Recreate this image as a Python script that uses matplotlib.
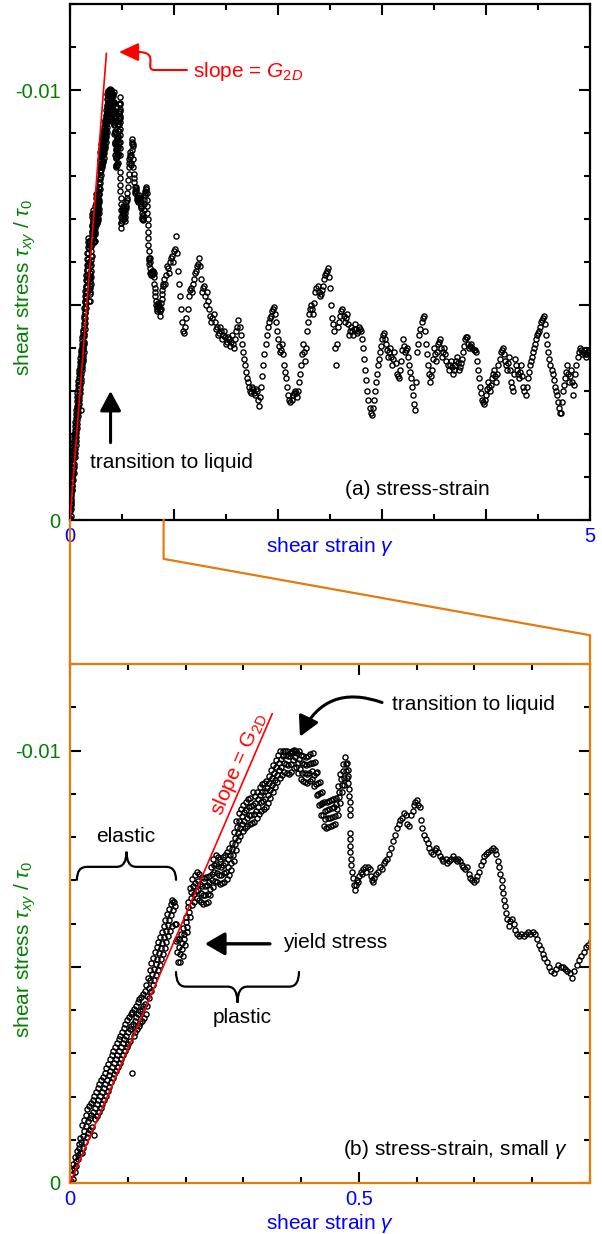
import numpy as np
import matplotlib
matplotlib.use("Agg")
import matplotlib.pyplot as plt
from matplotlib.path import Path
from matplotlib.patches import FancyArrowPatch, PathPatch
from matplotlib.lines import Line2D
from matplotlib.ticker import MultipleLocator, FixedLocator, FixedFormatter

plt.rcParams["font.family"] = ["Liberation Sans", "DejaVu Sans"]
plt.rcParams["mathtext.fontset"] = "custom"
plt.rcParams["mathtext.rm"] = "Liberation Sans"
plt.rcParams["mathtext.it"] = "Liberation Sans:italic"
plt.rcParams["mathtext.bf"] = "Liberation Sans:bold"

GREEN = "#008000"
BLUE = "#0000ff"
ORANGE = "#e47b0a"
RED = "#ff0000"

# stress values are |tau_xy / tau_0| in units of 1e-3 (plotted as negative)
strain_elastic = [
    0.000, 0.001, 0.002, 0.003, 0.004, 0.005, 0.006, 0.007, 0.008, 0.009,
    0.010, 0.011, 0.012, 0.013, 0.014, 0.015, 0.016, 0.017, 0.018, 0.019,
    0.020, 0.021, 0.022, 0.023, 0.024, 0.025, 0.026, 0.027, 0.028, 0.029,
    0.030, 0.031, 0.032, 0.033, 0.034, 0.035, 0.036, 0.037, 0.038, 0.039,
    0.040, 0.041, 0.042, 0.043, 0.044, 0.045, 0.046, 0.047, 0.048, 0.049,
    0.050, 0.051, 0.052, 0.053, 0.054, 0.055, 0.056, 0.057, 0.058, 0.059,
    0.060, 0.061, 0.062, 0.063, 0.064, 0.065, 0.066, 0.067, 0.068, 0.069,
    0.070, 0.071, 0.072, 0.073, 0.074, 0.075, 0.076, 0.077, 0.078, 0.079,
    0.080, 0.081, 0.082, 0.083, 0.084, 0.085, 0.086, 0.087, 0.088, 0.089,
    0.090, 0.091, 0.092, 0.093, 0.094, 0.095, 0.096, 0.097, 0.098, 0.099,
    0.100, 0.101, 0.102, 0.103, 0.104, 0.105, 0.106, 0.107, 0.108, 0.109,
    0.110, 0.111, 0.112, 0.113, 0.114, 0.115, 0.116, 0.117, 0.118, 0.119,
    0.120, 0.121, 0.122, 0.123, 0.124, 0.125, 0.126, 0.127, 0.128, 0.129,
    0.130, 0.131, 0.132, 0.133, 0.134, 0.135, 0.136, 0.137, 0.138, 0.139,
    0.140, 0.141, 0.142, 0.143, 0.144, 0.145, 0.146, 0.147, 0.148, 0.149,
    0.150, 0.151, 0.152, 0.153, 0.154, 0.155, 0.156, 0.157, 0.158, 0.159,
    0.160, 0.161, 0.162, 0.163, 0.164, 0.165, 0.166, 0.167, 0.168, 0.169,
    0.170, 0.171, 0.172, 0.173, 0.174, 0.175, 0.176, 0.177, 0.178, 0.179,
]
stress_elastic = [
    0.0, 0.05, 0.0, 0.3, 0.2, 0.1, 0.45, 0.35, 0.25, 0.6,
    0.5, 0.4, 0.75, 0.65, 0.55, 0.9, 0.8, 0.7, 1.05, 0.95,
    0.7, 1.34, 1.08, 0.82, 1.46, 1.2, 0.94, 1.58, 1.32, 1.06,
    1.7, 1.43, 1.15, 1.78, 1.5, 1.23, 1.85, 1.58, 1.3, 1.93,
    1.65, 1.1, 2.01, 1.74, 1.47, 2.1, 1.83, 1.56, 2.19, 1.92,
    1.65, 2.28, 2.01, 1.74, 2.37, 2.1, 1.83, 2.46, 2.19, 1.92,
    2.55, 2.29, 2.02, 2.66, 2.39, 2.13, 2.76, 2.5, 2.23, 2.87,
    2.6, 2.33, 2.96, 2.69, 2.42, 3.05, 2.78, 2.51, 3.14, 2.87,
    2.6, 3.23, 2.96, 2.69, 3.32, 3.05, 2.78, 3.41, 3.14, 2.87,
    3.5, 3.23, 2.96, 3.59, 3.32, 3.05, 3.68, 3.41, 3.14, 3.77,
    3.5, 3.22, 3.84, 3.56, 3.28, 3.9, 3.62, 2.55, 3.96, 3.68,
    3.4, 4.03, 3.75, 3.48, 4.1, 3.83, 3.55, 4.18, 3.9, 3.63,
    4.25, 3.97, 3.69, 4.31, 4.03, 3.75, 4.37, 4.09, 3.81, 4.43,
    4.15, 3.91, 4.57, 4.33, 4.09, 4.75, 4.51, 4.27, 4.93, 4.69,
    4.45, 5.09, 4.83, 4.57, 5.21, 4.95, 4.69, 5.33, 5.07, 4.81,
    5.45, 5.19, 4.93, 5.57, 5.31, 5.05, 5.69, 5.43, 5.17, 5.81,
    5.55, 5.3, 5.94, 5.69, 5.43, 6.08, 5.82, 5.57, 6.21, 5.96,
    5.7, 6.34, 6.08, 5.82, 6.46, 6.2, 5.94, 6.55, 6.32, 6.5,
]

strain_plastic = [
    0.180, 0.181, 0.182, 0.183, 0.184, 0.185, 0.186, 0.187, 0.188, 0.189,
    0.190, 0.191, 0.192, 0.193, 0.194, 0.195, 0.196, 0.197, 0.198, 0.199,
    0.200, 0.201, 0.202, 0.203, 0.204, 0.205, 0.206, 0.207, 0.208, 0.209,
    0.210, 0.211, 0.212, 0.213, 0.214, 0.215, 0.216, 0.217, 0.218, 0.219,
    0.220, 0.221, 0.222, 0.223, 0.224, 0.225, 0.226, 0.227, 0.228, 0.229,
    0.230, 0.231, 0.232, 0.233, 0.234, 0.235, 0.236, 0.237, 0.238, 0.239,
    0.240, 0.241, 0.242, 0.243, 0.244, 0.245, 0.246, 0.247, 0.248, 0.249,
    0.250, 0.251, 0.252, 0.253, 0.254, 0.255, 0.256, 0.257, 0.258, 0.259,
    0.260, 0.261, 0.262, 0.263, 0.264, 0.265, 0.266, 0.267, 0.268, 0.269,
    0.270, 0.271, 0.272, 0.273, 0.274, 0.275, 0.276, 0.277, 0.278, 0.279,
    0.280, 0.281, 0.282, 0.283, 0.284, 0.285, 0.286, 0.287, 0.288, 0.289,
    0.290, 0.291, 0.292, 0.293, 0.294, 0.295, 0.296, 0.297, 0.298, 0.299,
    0.300, 0.301, 0.302, 0.303, 0.304, 0.305, 0.306, 0.307, 0.308, 0.309,
    0.310, 0.311, 0.312, 0.313, 0.314, 0.315, 0.316, 0.317, 0.318, 0.319,
    0.320, 0.321, 0.322, 0.323, 0.324, 0.325, 0.326, 0.327, 0.328, 0.329,
    0.330, 0.331, 0.332, 0.333, 0.334, 0.335, 0.336, 0.337, 0.338, 0.339,
    0.340, 0.341, 0.342, 0.343, 0.344, 0.345, 0.346, 0.347, 0.348, 0.349,
    0.350, 0.351, 0.352, 0.353, 0.354, 0.355, 0.356, 0.357, 0.358, 0.359,
    0.360, 0.361, 0.362, 0.363, 0.364, 0.365, 0.366, 0.367, 0.368, 0.369,
    0.370, 0.371, 0.372, 0.373, 0.374, 0.375, 0.376, 0.377, 0.378, 0.379,
    0.380, 0.381, 0.382, 0.383, 0.384, 0.385, 0.386, 0.387, 0.388, 0.389,
    0.390, 0.391, 0.392, 0.393, 0.394, 0.395, 0.396, 0.397, 0.398, 0.399,
    0.400, 0.401, 0.402, 0.403, 0.404, 0.405, 0.406, 0.407, 0.408, 0.409,
    0.410, 0.411, 0.412, 0.413, 0.414, 0.415, 0.416, 0.417, 0.418, 0.419,
    0.420, 0.421, 0.422, 0.423, 0.424, 0.425, 0.426, 0.427, 0.428, 0.429,
    0.430, 0.431, 0.432, 0.433, 0.434, 0.435, 0.436, 0.437, 0.438, 0.439,
    0.440, 0.441, 0.442, 0.443, 0.444, 0.445, 0.446, 0.447, 0.448, 0.449,
    0.450, 0.451, 0.452, 0.453, 0.454, 0.455, 0.456, 0.457, 0.458, 0.459,
    0.460, 0.461, 0.462, 0.463, 0.464, 0.465, 0.466, 0.467, 0.468, 0.469,
    0.470, 0.471, 0.472, 0.473, 0.474, 0.475, 0.476, 0.477, 0.478, 0.479,
]
stress_plastic = [
    6.5, 6.4, 6.0, 5.6, 6.0, 5.65, 5.35, 5.1, 5.65, 5.45,
    5.3, 5.1, 5.75, 5.55, 5.4, 5.25, 5.9, 5.75, 5.65, 5.5,
    6.15, 6.04, 5.92, 5.8, 6.49, 6.38, 6.26, 6.15, 6.83, 6.72,
    6.6, 6.42, 7.04, 6.86, 6.68, 6.5, 7.12, 6.94, 6.76, 6.58,
    7.2, 6.98, 6.77, 6.55, 7.14, 6.92, 6.71, 6.49, 7.08, 6.86,
    6.65, 6.46, 7.06, 6.87, 6.67, 6.48, 7.08, 6.89, 6.69, 6.5,
    7.1, 6.95, 6.8, 6.65, 7.3, 7.15, 7.0, 6.85, 7.5, 7.35,
    7.2, 6.99, 7.58, 7.37, 7.16, 6.95, 7.54, 7.33, 7.12, 6.91,
    7.5, 7.31, 7.12, 6.93, 7.54, 7.35, 7.16, 6.97, 7.58, 7.39,
    7.2, 7.03, 7.65, 7.48, 7.3, 7.13, 7.75, 7.58, 7.4, 7.23,
    7.85, 7.72, 7.58, 7.45, 8.11, 7.98, 7.84, 7.7, 8.37, 8.24,
    8.1, 7.93, 8.55, 8.38, 8.2, 8.03, 8.65, 8.48, 8.3, 8.13,
    8.75, 8.57, 8.38, 8.2, 8.81, 8.63, 8.44, 8.26, 8.87, 8.69,
    8.5, 8.3, 8.91, 8.71, 8.52, 8.32, 9.05, 8.73, 8.54, 8.34,
    8.95, 8.78, 8.6, 8.43, 9.05, 8.88, 8.7, 8.53, 9.15, 8.98,
    8.8, 8.61, 9.22, 9.03, 8.84, 8.65, 9.26, 9.07, 8.88, 8.69,
    9.3, 9.13, 8.96, 8.79, 9.42, 9.25, 9.08, 8.91, 9.54, 9.37,
    9.2, 9.03, 9.66, 9.49, 9.32, 9.15, 9.78, 9.61, 9.44, 9.27,
    9.9, 9.72, 9.54, 9.36, 9.98, 9.8, 9.62, 9.44, 9.98, 9.88,
    9.7, 9.5, 10.0, 9.89, 9.68, 9.48, 9.98, 9.87, 9.66, 9.46,
    9.95, 9.87, 9.69, 9.51, 10.0, 9.95, 9.77, 9.59, 10.02, 9.98,
    9.85, 9.62, 10.0, 9.95, 9.71, 9.48, 10.0, 9.81, 9.57, 9.34,
    9.9, 9.7, 9.49, 9.29, 9.88, 9.68, 9.47, 9.27, 9.86, 9.66,
    9.45, 9.26, 9.87, 9.68, 9.49, 9.3, 9.91, 9.72, 9.53, 9.34,
    9.95, 9.7, 9.44, 9.19, 9.73, 9.48, 9.22, 8.97, 9.51, 9.26,
    9.0, 8.74, 9.28, 9.02, 8.76, 8.5, 9.04, 8.78, 8.52, 8.26,
    8.8, 8.6, 8.41, 8.21, 8.82, 8.62, 8.43, 8.23, 8.84, 8.64,
    8.45, 8.26, 8.86, 8.67, 8.47, 8.28, 8.88, 8.69, 8.49, 8.3,
    8.9, 8.77, 8.64, 8.51, 9.18, 9.05, 8.92, 8.79, 9.46, 9.33,
    9.2, 9.04, 9.68, 9.52, 9.36, 9.2, 9.84, 9.68, 9.52, 9.36,
]

strain_liquid = [
    0.480, 0.481, 0.482, 0.482, 0.483, 0.483, 0.484, 0.484, 0.484, 0.484,
    0.484, 0.485, 0.485, 0.486, 0.487, 0.488, 0.490, 0.492, 0.493, 0.495,
    0.497, 0.499, 0.501, 0.503, 0.505, 0.507, 0.510, 0.513, 0.516, 0.519,
    0.521, 0.523, 0.525, 0.527, 0.530, 0.533, 0.536, 0.540, 0.543, 0.546,
    0.549, 0.552, 0.555, 0.559, 0.563, 0.566, 0.569, 0.572, 0.575, 0.578,
    0.581, 0.584, 0.587, 0.590, 0.593, 0.595, 0.597, 0.600, 0.603, 0.606,
    0.608, 0.610, 0.613, 0.616, 0.619, 0.622, 0.625, 0.628, 0.631, 0.634,
    0.637, 0.640, 0.643, 0.646, 0.650, 0.653, 0.656, 0.660, 0.663, 0.666,
    0.669, 0.672, 0.675, 0.678, 0.681, 0.684, 0.687, 0.690, 0.693, 0.696,
    0.699, 0.702, 0.705, 0.708, 0.711, 0.714, 0.717, 0.720, 0.724, 0.728,
    0.732, 0.735, 0.738, 0.741, 0.743, 0.745, 0.747, 0.748, 0.750, 0.751,
    0.753, 0.755, 0.757, 0.759, 0.762, 0.765, 0.768, 0.771, 0.774, 0.777,
    0.781, 0.785, 0.789, 0.793, 0.797, 0.801, 0.805, 0.809, 0.812, 0.815,
    0.818, 0.821, 0.825, 0.829, 0.833, 0.837, 0.841, 0.845, 0.849, 0.853,
    0.857, 0.861, 0.865, 0.869, 0.873, 0.877, 0.881, 0.885, 0.889, 0.893,
    0.897, 0.901,
]
stress_liquid = [
    9.7, 9.55, 9.4, 9.25, 9.1, 8.95, 8.8, 8.65, 8.5, 8.1,
    7.95, 7.8, 7.65, 7.5, 7.35, 7.2, 7.05, 6.9, 6.78, 6.9,
    7.0, 6.95, 7.1, 7.2, 7.15, 7.25, 7.3, 7.2, 7.3, 7.25,
    7.1, 7.0, 6.95, 7.05, 7.15, 7.2, 7.3, 7.25, 7.4, 7.45,
    7.5, 7.6, 7.75, 7.9, 8.05, 8.2, 8.3, 8.4, 8.45, 8.55,
    8.5, 8.3, 8.25, 8.5, 8.6, 8.75, 8.8, 8.85, 8.75, 8.7,
    8.4, 8.2, 8.05, 7.95, 7.85, 7.75, 7.65, 7.6, 7.7, 7.75,
    7.65, 7.55, 7.5, 7.45, 7.5, 7.4, 7.45, 7.5, 7.55, 7.5,
    7.45, 7.5, 7.45, 7.35, 7.3, 7.25, 7.3, 7.15, 7.05, 7.0,
    6.97, 7.0, 7.1, 7.2, 7.35, 7.45, 7.55, 7.6, 7.65, 7.7,
    7.75, 7.7, 7.6, 7.45, 7.3, 7.15, 7.0, 6.85, 6.7, 6.55,
    6.4, 6.25, 6.1, 5.95, 6.05, 6.1, 6.0, 5.85, 5.75, 5.7,
    5.75, 5.7, 5.75, 5.8, 5.75, 5.8, 5.75, 5.65, 5.5, 5.4,
    5.3, 5.2, 5.1, 5.0, 4.9, 4.85, 4.95, 5.05, 5.0, 5.0,
    4.95, 4.9, 4.85, 4.75, 4.9, 5.05, 5.15, 5.25, 5.35, 5.45,
    5.5, 5.6,
]

strain_flow = [
    0.92, 0.94, 0.96, 0.98, 1.00, 1.02, 1.04, 1.06, 1.08, 1.10,
    1.12, 1.14, 1.16, 1.18, 1.20, 1.22, 1.24, 1.26, 1.28, 1.30,
    1.32, 1.34, 1.36, 1.38, 1.40, 1.42, 1.44, 1.46, 1.48, 1.50,
    1.52, 1.54, 1.56, 1.58, 1.60, 1.62, 1.64, 1.66, 1.68, 1.70,
    1.72, 1.74, 1.76, 1.78, 1.80, 1.82, 1.84, 1.86, 1.88, 1.90,
    1.92, 1.94, 1.96, 1.98, 2.00, 2.02, 2.04, 2.06, 2.08, 2.10,
    2.12, 2.14, 2.16, 2.18, 2.20, 2.22, 2.24, 2.26, 2.28, 2.30,
    2.32, 2.34, 2.36, 2.38, 2.40, 2.42, 2.44, 2.46, 2.48, 2.50,
    2.52, 2.54, 2.56, 2.58, 2.60, 2.62, 2.64, 2.66, 2.68, 2.70,
    2.72, 2.74, 2.76, 2.78, 2.80, 2.82, 2.84, 2.86, 2.88, 2.90,
    2.92, 2.94, 2.96, 2.98, 3.00, 3.02, 3.04, 3.06, 3.08, 3.10,
    3.12, 3.14, 3.16, 3.18, 3.20, 3.22, 3.24, 3.26, 3.28, 3.30,
    3.32, 3.34, 3.36, 3.38, 3.40, 3.42, 3.44, 3.46, 3.48, 3.50,
    3.52, 3.54, 3.56, 3.58, 3.60, 3.62, 3.64, 3.66, 3.68, 3.70,
    3.72, 3.74, 3.76, 3.78, 3.80, 3.82, 3.84, 3.86, 3.88, 3.90,
    3.92, 3.94, 3.96, 3.98, 4.00, 4.02, 4.04, 4.06, 4.08, 4.10,
    4.12, 4.14, 4.16, 4.18, 4.20, 4.22, 4.24, 4.26, 4.28, 4.30,
    4.32, 4.34, 4.36, 4.38, 4.40, 4.42, 4.44, 4.46, 4.48, 4.50,
    4.52, 4.54, 4.56, 4.58, 4.60, 4.62, 4.64, 4.66, 4.68, 4.70,
    4.72, 4.74, 4.76, 4.78, 4.80, 4.82, 4.84, 4.86, 4.88, 4.90,
    4.92, 4.94, 4.96, 4.98, 5.00,
]
stress_flow = [
    5.7, 5.85, 6.0, 6.15, 6.25, 6.6, 5.8, 5.2, 4.6, 4.35,
    4.7, 5.2, 5.4, 5.5, 5.75, 5.9, 6.1, 5.6, 5.4, 5.2,
    5.3, 4.9, 4.6, 4.8, 4.45, 4.3, 4.5, 4.2, 4.4, 4.1,
    4.25, 4.05, 4.3, 4.0, 4.4, 4.65, 4.3, 3.9, 3.6, 3.3,
    3.1, 2.95, 3.05, 2.9, 3.0, 2.65, 3.1, 3.6, 4.1, 4.5,
    4.7, 4.85, 4.95, 4.6, 4.2, 3.9, 4.1, 3.6, 3.3, 2.9,
    2.75, 2.9, 3.0, 2.85, 3.2, 3.6, 4.1, 3.7, 4.4, 4.8,
    5.0, 4.8, 5.3, 5.45, 5.2, 5.35, 5.6, 5.75, 5.85, 5.4,
    4.7, 4.4, 3.6, 4.5, 4.75, 4.9, 4.6, 4.8, 4.3, 4.5,
    4.3, 4.55, 4.35, 4.5, 4.4, 4.0, 3.5, 3.0, 2.6, 2.45,
    2.8, 3.2, 3.6, 3.9, 4.2, 4.35, 4.1, 3.8, 4.0, 3.6,
    3.9, 3.4, 3.3, 3.7, 4.2, 3.9, 4.0, 3.6, 3.3, 2.9,
    2.55, 3.9, 4.3, 4.6, 4.75, 4.1, 3.6, 3.2, 3.5, 4.0,
    3.7, 4.1, 4.2, 3.8, 4.0, 3.7, 3.5, 3.7, 3.4, 3.6,
    3.8, 3.5, 3.65, 3.9, 4.2, 4.25, 4.0, 4.1, 3.95, 3.9,
    3.5, 3.1, 2.8, 2.7, 2.9, 3.2, 3.0, 3.3, 3.5, 3.2,
    3.6, 3.9, 4.0, 3.7, 3.5, 3.8, 3.2, 3.0, 3.75, 3.5,
    3.3, 3.6, 3.1, 2.9, 3.3, 3.6, 3.8, 4.0, 4.2, 4.35,
    4.5, 4.65, 4.75, 4.3, 3.9, 3.6, 3.4, 3.1, 2.9, 2.6,
    2.5, 3.0, 3.3, 3.6, 3.2, 3.5, 2.9, 3.4, 3.8, 4.0,
    3.85, 3.95, 3.8, 3.9, 3.85,
]

strain_flow_mid = [
    0.91, 0.93, 0.95, 0.97, 0.99, 1.01, 1.03, 1.05, 1.07, 1.09,
    1.11, 1.13, 1.15, 1.17, 1.19, 1.21, 1.23, 1.25, 1.27, 1.29,
    1.31, 1.33, 1.35, 1.37, 1.39, 1.41, 1.43, 1.45, 1.47, 1.49,
    1.51, 1.53, 1.55, 1.57, 1.59, 1.61, 1.63, 1.65, 1.67, 1.69,
    1.71, 1.73, 1.75, 1.77, 1.79, 1.81, 1.83, 1.85, 1.87, 1.89,
    1.91, 1.93, 1.95, 1.97, 1.99, 2.01, 2.03, 2.05, 2.07, 2.09,
    2.11, 2.13, 2.15, 2.17, 2.19, 2.21, 2.23, 2.25, 2.27, 2.29,
    2.31, 2.33, 2.35, 2.37, 2.39, 2.41, 2.43, 2.45, 2.47, 2.49,
    2.51, 2.53, 2.55, 2.57, 2.59, 2.61, 2.63, 2.65, 2.67, 2.69,
    2.71, 2.73, 2.75, 2.77, 2.79, 2.81, 2.83, 2.85, 2.87, 2.89,
    2.91, 2.93, 2.95, 2.97, 2.99, 3.01, 3.03, 3.05, 3.07, 3.09,
    3.11, 3.13, 3.15, 3.17, 3.19, 3.21, 3.23, 3.25, 3.27, 3.29,
    3.31, 3.33, 3.35, 3.37, 3.39, 3.41, 3.43, 3.45, 3.47, 3.49,
    3.51, 3.53, 3.55, 3.57, 3.59, 3.61, 3.63, 3.65, 3.67, 3.69,
    3.71, 3.73, 3.75, 3.77, 3.79, 3.81, 3.83, 3.85, 3.87, 3.89,
    3.91, 3.93, 3.95, 3.97, 3.99, 4.01, 4.03, 4.05, 4.07, 4.09,
    4.11, 4.13, 4.15, 4.17, 4.19, 4.21, 4.23, 4.25, 4.27, 4.29,
    4.31, 4.33, 4.35, 4.37, 4.39, 4.41, 4.43, 4.45, 4.47, 4.49,
    4.51, 4.53, 4.55, 4.57, 4.59, 4.61, 4.63, 4.65, 4.67, 4.69,
    4.71, 4.73, 4.75, 4.77, 4.79, 4.81, 4.83, 4.85, 4.87, 4.89,
    4.91, 4.93, 4.95, 4.97, 4.99,
]
stress_flow_mid = [
    5.5, 5.9, 5.75, 6.1, 6.0, 6.3, 6.2, 5.5, 4.9, 4.4,
    4.5, 4.9, 5.35, 5.3, 5.6, 5.8, 5.95, 5.9, 5.3, 5.45,
    5.0, 5.1, 4.75, 4.7, 4.6, 4.5, 4.35, 4.4, 4.3, 4.25,
    4.15, 4.2, 4.15, 4.1, 4.2, 4.5, 4.5, 4.1, 3.75, 3.45,
    3.2, 3.0, 3.1, 2.95, 3.05, 2.8, 2.85, 3.35, 3.85, 4.3,
    4.6, 4.75, 4.9, 4.8, 4.4, 4.05, 3.95, 3.85, 3.45, 3.1,
    2.8, 2.8, 2.95, 2.95, 3.0, 3.4, 3.85, 3.9, 4.0, 4.6,
    4.9, 4.9, 5.05, 5.4, 5.3, 5.25, 5.45, 5.7, 5.8, 5.65,
    5.0, 4.55, 4.0, 4.1, 4.6, 4.85, 4.75, 4.7, 4.55, 4.4,
    4.4, 4.45, 4.45, 4.4, 4.45, 4.2, 3.75, 3.25, 2.8, 2.5,
    2.6, 3.0, 3.4, 3.75, 4.05, 4.3, 4.2, 3.95, 3.9, 3.8,
    3.75, 3.65, 3.35, 3.5, 3.95, 4.05, 3.95, 3.8, 3.45, 3.1,
    2.7, 3.2, 4.1, 4.45, 4.7, 4.4, 3.85, 3.4, 3.35, 3.75,
    3.85, 3.9, 4.15, 4.0, 3.9, 3.85, 3.6, 3.6, 3.55, 3.5,
    3.7, 3.65, 3.55, 3.75, 4.05, 4.25, 4.1, 4.05, 4.0, 3.95,
    3.7, 3.3, 2.95, 2.75, 2.8, 3.05, 3.1, 3.15, 3.4, 3.35,
    3.4, 3.75, 3.95, 3.85, 3.6, 3.65, 3.5, 3.1, 3.4, 3.6,
    3.4, 3.45, 3.35, 3.0, 3.1, 3.45, 3.7, 3.9, 4.1, 4.3,
    4.4, 4.6, 4.7, 4.55, 4.1, 3.75, 3.5, 3.25, 3.0, 2.75,
    2.5, 2.75, 3.15, 3.45, 3.4, 3.35, 3.2, 3.15, 3.6, 3.9,
    3.95, 3.9, 3.85, 3.85, 3.9,
]

# linear fit, slope = G_2D
line_strain = [0.0, 0.35]
line_stress = [0.0, 10.85]

strain = np.concatenate([strain_elastic, strain_plastic, strain_liquid,
                         strain_flow, strain_flow_mid])
stress = -1e-3 * np.concatenate([stress_elastic, stress_plastic, stress_liquid,
                                 stress_flow, stress_flow_mid])
fit_x = np.array(line_strain)
fit_y = -1e-3 * np.array(line_stress)


def style_axes(ax, spine_color):
    for sp in ax.spines.values():
        sp.set_color(spine_color)
        sp.set_linewidth(1.6)
    ax.tick_params(which="both", direction="in", top=True, right=True,
                   width=1.5, color="black")
    ax.tick_params(which="major", length=8, labelsize=14.5)
    ax.tick_params(which="minor", length=4.5)
    ax.tick_params(axis="x", labelcolor=BLUE, pad=5)
    ax.tick_params(axis="y", labelcolor=GREEN, pad=7)
    ax.yaxis.set_major_locator(FixedLocator([0, -0.005, -0.01]))
    ax.yaxis.set_major_formatter(FixedFormatter(["0", "", "-0.01"]))
    ax.yaxis.set_minor_locator(MultipleLocator(0.001))
    ax.set_ylim(0, -0.012)
    ax.set_ylabel(r"shear stress $\tau_{xy}$ / $\tau_0$", color=GREEN, fontsize=15)
    ax.yaxis.set_label_coords(-0.062, 0.45)
    ax.set_xlabel(r"shear strain $\gamma$", color=BLUE, fontsize=15)


def curly_brace(ax, x0, x1, y_end, y_bar, y_tip, dx):
    xc = 0.5 * (x0 + x1)
    verts = [(x0, y_end), (x0, y_bar), (x0 + dx, y_bar),
             (xc - dx, y_bar), (xc, y_bar), (xc, y_tip),
             (xc, y_bar), (xc + dx, y_bar),
             (x1 - dx, y_bar), (x1, y_bar), (x1, y_end)]
    codes = [Path.MOVETO, Path.CURVE3, Path.CURVE3,
             Path.LINETO, Path.CURVE3, Path.CURVE3,
             Path.CURVE3, Path.CURVE3,
             Path.LINETO, Path.CURVE3, Path.CURVE3]
    ax.add_patch(PathPatch(Path(verts, codes), fill=False, lw=1.6,
                           edgecolor="black", capstyle="round"))


fig = plt.figure(figsize=(6.02, 12.34), dpi=100)
ax_top = fig.add_axes([70 / 602, 1 - 520 / 1234, 520 / 602, 516 / 1234])
ax_bot = fig.add_axes([70 / 602, 51 / 1234, 520 / 602, 519 / 1234])

marker_kw = dict(linestyle="none", marker="o", markersize=3.7, markerfacecolor="none",
                 markeredgecolor="black", markeredgewidth=1.0, zorder=2)

# ---------- (a) full range ----------
ax_top.plot(strain, stress, **marker_kw)
ax_top.plot(fit_x, fit_y, color=RED, lw=1.2, zorder=3)
style_axes(ax_top, "black")
ax_top.set_xlim(0, 5)
ax_top.xaxis.set_major_locator(FixedLocator([0, 1, 2, 3, 4, 5]))
ax_top.xaxis.set_major_formatter(FixedFormatter(["0", "", "", "", "", "5"]))
ax_top.xaxis.set_minor_locator(MultipleLocator(0.5))
ax_top.xaxis.set_label_coords(0.5, -0.030)

ax_top.text(0.808, 0.060, "(a) stress-strain", transform=ax_top.transAxes,
            ha="right", va="center", fontsize=15)
ax_top.text(0.038, 0.112, "transition to liquid", transform=ax_top.transAxes,
            ha="left", va="center", fontsize=15)
ax_top.annotate("", xy=(0.39, -0.00300), xytext=(0.39, -0.00180),
                arrowprops=dict(arrowstyle="-|>,head_length=0.6,head_width=0.32",
                                mutation_scale=20, lw=2.2, color="black",
                                shrinkA=0, shrinkB=0))
ax_top.text(1.18, -0.01030, r"slope = $\mathit{G_{2D}}$", color=RED,
            ha="left", va="baseline", fontsize=15)
red_path = Path([(1.125, -0.010464), (0.817, -0.010464),
                 (0.702, -0.010464), (0.865, -0.010858), (0.673, -0.010882),
                 (0.471, -0.010882)],
                [Path.MOVETO, Path.LINETO, Path.CURVE4, Path.CURVE4, Path.CURVE4,
                 Path.LINETO])
ax_top.add_patch(FancyArrowPatch(path=red_path,
                                 arrowstyle="-|>,head_length=0.6,head_width=0.28",
                                 mutation_scale=20, lw=1.5, color=RED))

# ---------- (b) small strain ----------
ax_bot.plot(strain, stress, **marker_kw)
ax_bot.plot(fit_x, fit_y, color=RED, lw=1.2, zorder=3)
style_axes(ax_bot, ORANGE)
ax_bot.set_xlim(0, 0.9)
ax_bot.xaxis.set_major_locator(FixedLocator([0, 0.5]))
ax_bot.xaxis.set_major_formatter(FixedFormatter(["0", "0.5"]))
ax_bot.xaxis.set_minor_locator(MultipleLocator(0.1))
ax_bot.xaxis.set_label_coords(0.5, -0.056)

ax_bot.text(0.956, 0.064, r"(b) stress-strain, small $\gamma$", transform=ax_bot.transAxes,
            ha="right", va="center", fontsize=15)
ax_bot.text(0.291, -0.00968, r"slope = G$_\mathregular{2D}$", color=RED, rotation=66.5,
            rotation_mode="anchor", ha="center", va="center", fontsize=15)
ax_bot.text(0.097, -0.00801, "elastic", ha="center", va="center", fontsize=15)
ax_bot.text(0.298, -0.00382, "plastic", ha="center", va="center", fontsize=15)
curly_brace(ax_bot, 0.012, 0.1835, -0.00701, -0.00731, -0.00766, 0.017)
curly_brace(ax_bot, 0.1835, 0.3963, -0.00488, -0.00454, -0.00417, 0.017)
ax_bot.text(0.369, -0.00555, "yield stress", ha="left", va="center", fontsize=15)
ax_bot.annotate("", xy=(0.2336, -0.00553), xytext=(0.346, -0.00553),
                arrowprops=dict(arrowstyle="-|>,head_length=0.6,head_width=0.35",
                                mutation_scale=20, lw=2.4, color="black",
                                shrinkA=0, shrinkB=0))
ax_bot.text(0.557, -0.01106, "transition to liquid", ha="left", va="center", fontsize=15)
ax_bot.annotate("", xy=(0.398, -0.01032), xytext=(0.54, -0.01111),
                arrowprops=dict(arrowstyle="-|>,head_length=0.6,head_width=0.32",
                                mutation_scale=20, lw=2.2, color="black",
                                connectionstyle="arc3,rad=0.45",
                                shrinkA=0, shrinkB=0))

# ---------- zoom connector ----------
x0_top, y0_top = ax_top.transData.transform((0, 0))
x9_top, _ = ax_top.transData.transform((0.9, 0))
x0_bot, ytop_bot = ax_bot.transAxes.transform((0, 1))
x1_bot, _ = ax_bot.transAxes.transform((1, 1))
gap = y0_top - ytop_bot
inv = fig.transFigure.inverted()
left_pts = inv.transform([(x0_top, y0_top), (x0_bot, ytop_bot)])
right_pts = inv.transform([(x9_top, y0_top), (x9_top, y0_top - 0.27 * gap),
                           (x1_bot, y0_top - 0.80 * gap), (x1_bot, ytop_bot)])
for pts in (left_pts, right_pts):
    fig.add_artist(Line2D(pts[:, 0], pts[:, 1], color=ORANGE, lw=1.6,
                          transform=fig.transFigure, clip_on=False))

fig.savefig("out.png", dpi=100)
